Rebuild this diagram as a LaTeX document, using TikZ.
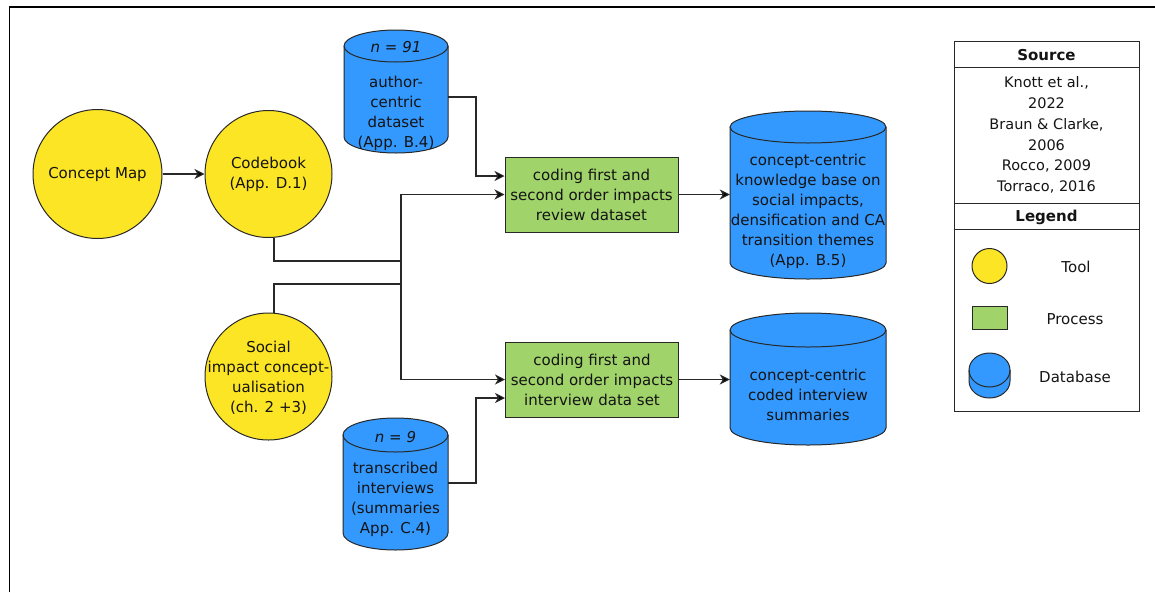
\documentclass[tikz,border=0pt]{standalone}
\usepackage{fontspec}
\setmainfont{DejaVu Sans}
\usetikzlibrary{arrows.meta}
\definecolor{tyellow}{RGB}{252,229,36}
\definecolor{pgreen}{RGB}{160,211,106}
\definecolor{dblue}{RGB}{51,153,255}
\definecolor{ln}{RGB}{40,40,40}
\definecolor{txt}{RGB}{20,20,20}
\newcommand{\dgmfont}{\fontsize{15}{20}\selectfont}
\newcommand{\dbcyl}[6]{%
  \filldraw[dbshape] (#1,#3) arc[start angle=180,end angle=360,x radius=#5,y radius=#6] -- (#2,#4) arc[start angle=0,end angle=180,x radius=#5,y radius=#6] -- cycle;
  \draw[dbseam] (#1,#3) arc[start angle=180,end angle=0,x radius=#5,y radius=#6];
}
\tikzset{
  tool/.style={circle, draw=ln, fill=tyellow, line width=1pt, inner sep=0pt, align=center, text=txt, font=\dgmfont},
  proc/.style={rectangle, draw=ln, fill=pgreen, line width=1pt, inner sep=0pt, align=center, text=txt, font=\dgmfont, minimum width=173pt, minimum height=75pt},
  dbshape/.style={draw=ln, fill=dblue, line width=1pt},
  dbseam/.style={draw=ln, line width=1pt},
  dbtext/.style={rectangle, inner sep=0pt, align=center, text=txt, font=\dgmfont},
  ntext/.style={inner sep=0pt, text=txt, font=\dgmfont\itshape},
  lbl/.style={inner sep=0pt, align=center, text=txt, font=\dgmfont},
  conn/.style={draw=ln, line width=1.1pt},
  arr/.style={conn, -{Stealth[length=10pt,width=10pt,inset=3pt,fill=black]}},
  legline/.style={draw=ln, line width=1pt},
}
\begin{document}
\begin{tikzpicture}[x=1pt,y=-1pt]
\useasboundingbox (0,0) rectangle (1155,592);
% frame
\draw[black, line width=1.3pt] (9.5,592) -- (9.5,7) -- (1155,7);

% tools
\node[tool, minimum size=129pt] (cmap) at (97.5,174) {Concept Map};
\node[tool, minimum size=127pt] (codebook) at (268.5,174) {Codebook\\(App. D.1)};
\node[tool, minimum size=127pt] (social) at (268.5,376.5) {};
\node[lbl] (sociallbl) at (268.5,378) {Social\\impact concept-\\ualisation\\(ch. 2 +3)};

% processes
\node[proc] (review) at (591.5,194.5) {coding first and\\second order impacts\\review dataset};
\node[proc] (interview) at (592,379.5) {coding first and\\second order impacts\\interview data set};

% databases
\dbcyl{344}{448}{46}{137}{52}{16}
\node[dbtext, minimum width=104pt] (author) at (396,113) {author-\\centric\\dataset\\(App. B.4)};
\node[ntext] (authorn) at (396,47) {n = 91};

\dbcyl{343}{448}{435}{533}{52.5}{17}
\node[dbtext, minimum width=105pt] (trans) at (395.5,499) {transcribed\\interviews\\(summaries\\App. C.4)};
\node[ntext] (transn) at (395.5,437) {n = 9};

\dbcyl{730}{886}{127}{263}{78}{16}
\node[dbtext, minimum width=156pt] (kb) at (808,211) {concept-centric\\knowledge base on\\social impacts,\\densification and CA\\transition themes\\(App. B.5)};

\dbcyl{730}{886}{330}{428}{78}{17}
\node[dbtext, minimum width=156pt] (coded) at (808,395) {concept-centric\\coded interview\\summaries};

% connectors
\coordinate (bus1) at (401,261);
\coordinate (bus2) at (401,284);
\coordinate (aj) at (476,97);
\coordinate (tj) at (476,483);
\draw[arr] (cmap) -- (codebook);
\draw[arr] ([xshift=5.5pt]codebook.south) |- (bus1) |- (review.west);
\draw[arr] (bus1) |- (interview.west);
\draw[conn] ([xshift=5.5pt]social.north) |- (bus2);
\draw[arr] ([yshift=16pt]author.east) -- (aj) |- ([yshift=18.5pt]review.west);
\draw[arr] ([yshift=16pt]trans.east) -- (tj) |- ([yshift=-18.5pt]interview.west);
\draw[arr] (review.east) -- (review.east -| kb.west);
\draw[arr] (interview.east) -- (interview.east -| coded.west);

% legend
\draw[legline] (954,41) rectangle (1139,411);
\draw[legline] (954,67) -- (1139,67);
\draw[legline] (954,203) -- (1139,203);
\draw[legline] (954,229) -- (1139,229);
\node[lbl, font=\dgmfont\bfseries] (srchead) at (1046.5,55) {Source};
\node[lbl, font=\fontsize{14.5}{20.8}\selectfont] (srctext) at (1046.5,135) {Knott et al.,\\2022\\Braun \& Clarke,\\2006\\Rocco, 2009\\Torraco, 2016};
\node[lbl, font=\dgmfont\bfseries] (leghead) at (1046.5,217) {Legend};
\node[tool, minimum size=35pt] (legtool) at (989.5,266) {};
\node[lbl] (toollab) at (1076,267) {Tool};
\node[proc, minimum width=35pt, minimum height=23pt] (legproc) at (989.5,317.5) {};
\node[lbl] (proclab) at (1075,319) {Process};
\dbcyl{969}{1010}{370}{381}{20.5}{17}
\node[lbl] (dblab) at (1075,377) {Database};
\end{tikzpicture}
\end{document}
